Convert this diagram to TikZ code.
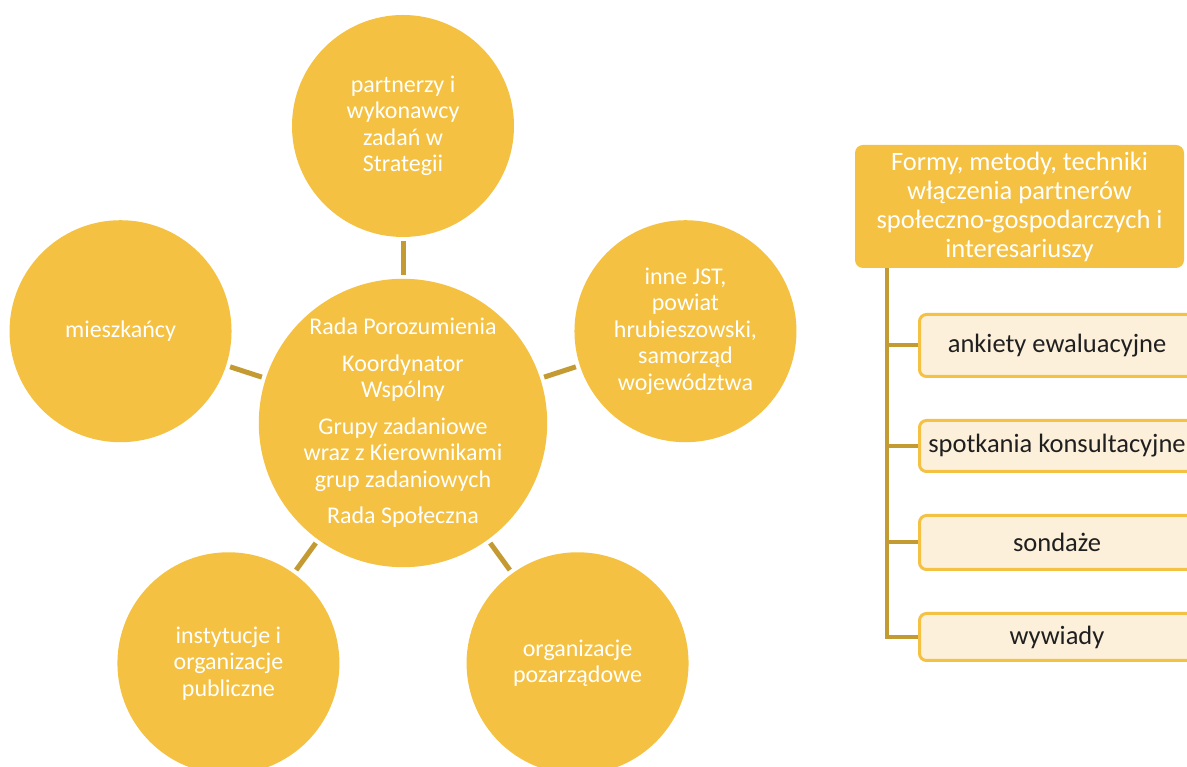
\documentclass[tikz,border=0pt]{standalone}
\usepackage{fontspec}
\setmainfont{Carlito}
\usepackage{tikz}
\usetikzlibrary{positioning, calc}

\definecolor{gold}{HTML}{F4C142}
\definecolor{goldline}{HTML}{C49A32}
\definecolor{cream}{HTML}{FCF0DA}

\begin{document}
\begin{tikzpicture}[
  x=1pt, y=1pt,
  circtext/.style={font=\fontsize{24}{26.5}\selectfont, text=white, align=center},
  hub/.style={circle, fill=gold, minimum size=284pt, inner sep=0pt, circtext},
  sat/.style={circle, fill=gold, minimum size=222pt, inner sep=0pt, circtext},
  link/.style={goldline, line width=5pt, shorten <=4pt, shorten >=4pt},
  head/.style={rectangle, rounded corners=8pt, fill=gold, minimum width=329pt,
    minimum height=123pt, text=white, align=center,
    font=\fontsize{26.5}{29}\selectfont},
  item/.style={rectangle, rounded corners=7pt, draw=gold, line width=3pt,
    fill=cream, minimum width=275pt, inner sep=2pt, text=black!88,
    font=\fontsize{26.5}{30}\selectfont},
  trunk/.style={goldline, line width=4pt},
]
  \clip (0,0) rectangle (1187,767);

  % Central circle
  \node[hub] (hub) at (403,344) {Rada Porozumienia\\[10pt]
    Koordynator\\Wspólny\\[10pt]
    Grupy zadaniowe\\wraz z Kierownikami\\grup zadaniowych\\[10pt]
    Rada Społeczna};

  % Stakeholder circles around it
  \foreach \ang/\nm/\txt in {
      90/strat/{partnerzy i\\wykonawcy\\zadań w\\Strategii},
      162/miesz/{mieszkańcy},
      18/jst/{inne JST,\\powiat\\hrubieszowski,\\samorząd\\województwa},
      234/inst/{instytucje i\\organizacje\\publiczne},
      306/ngo/{organizacje\\pozarządowe}}
  {
    \path (hub) ++(\ang:297) node[sat] (\nm) {\txt};
    \draw[link] (hub) -- (\nm);
  }

  % Forms and methods (right side)
  \node[head] (hdr) at (1019.5,560.5) {Formy, metody, techniki\\włączenia partnerów\\społeczno-gospodarczych i\\interesariuszy};
  \coordinate (trk) at ($(hdr.south west)+(32,0)$);

  \node[item, minimum height=62pt] (ank) at (1057,421.5) {ankiety ewaluacyjne};
  \node[item, minimum height=51pt] (spo) at (1057,321) {spotkania konsultacyjne};
  \node[item, minimum height=54pt] (son) at (1057,224.5) {sondaże};
  \node[item, minimum height=47pt] (wyw) at (1057,130) {wywiady};

  \draw[trunk] (trk) |- (wyw.west);
  \draw[trunk] (trk |- ank.west) -- (ank.west);
  \draw[trunk] (trk |- spo.west) -- (spo.west);
  \draw[trunk] (trk |- son.west) -- (son.west);
\end{tikzpicture}
\end{document}
